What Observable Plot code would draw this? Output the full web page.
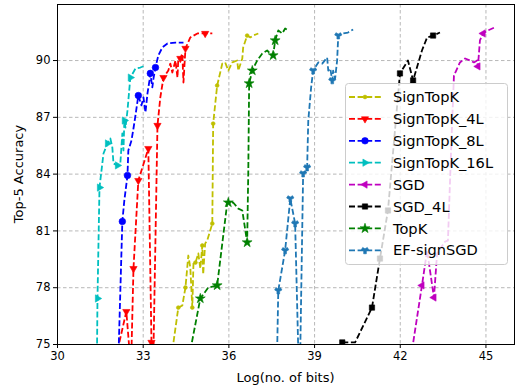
<!DOCTYPE html>
<html><head><meta charset="utf-8">
<script src="https://cdn.jsdelivr.net/npm/d3@7"></script>
<script src="https://cdn.jsdelivr.net/npm/@observablehq/plot@0.6"></script>
<style>body{margin:0;background:#fff}#chart svg{display:block}</style>
</head><body><div id="chart"></div>
<script>
// ---- data ----
const xTicks = [30, 33, 36, 39, 42, 45];
const yTicks = [75, 78, 81, 84, 87, 90];
const seriesNames = ["SignTopK", "SignTopK_4L", "SignTopK_8L", "SignTopK_16L", "SGD", "SGD_4L", "TopK", "EF-signSGD"];

const signTopK_x = [34.02,34.23,34.37,34.48,34.58,34.65,34.72,34.76,34.83,34.93,35.00,35.07,35.10,35.17,35.24,35.42,35.45,35.59,35.77,35.87,35.98,36.12,36.29,36.33,36.47,36.50,36.64,36.75,36.85,37.03];
const signTopK_y = [74.68,76.95,77.06,78.01,79.70,79.07,76.95,79.28,79.33,79.81,79.01,80.23,78.70,80.34,80.49,81.39,86.67,88.68,89.84,89.90,89.47,89.90,90.00,89.47,90.11,90.69,91.32,91.22,91.32,91.43];
const signTopK_marks = [1,3,6,8,11,15,16,17,26];

const signTopK4L_x = [32.10,32.41,32.52,32.59,32.66,32.83,33.18,33.29,33.36,33.46,33.50,33.60,33.71,33.88,33.95,34.02,34.13,34.20,34.23,34.30,34.37,34.41,34.48,34.65,34.90,35.17,35.42];
const signTopK4L_y = [74.68,76.74,74.68,74.68,79.01,83.66,85.35,75.11,74.68,83.14,86.57,88.05,89.10,89.47,89.84,89.37,90.00,89.10,90.11,90.11,90.37,88.84,90.64,91.22,91.43,91.43,91.43];
const signTopK4L_marks = [1,4,5,6,7,10,12,19,22,25];

const signTopK8L_x = [32.13,32.27,32.34,32.45,32.48,32.59,32.66,32.73,32.83,32.94,33.01,33.08,33.15,33.22,33.25,33.32,33.36,33.43,33.53,33.67,33.85,34.13,34.41];
const signTopK8L_y = [74.15,81.50,82.61,83.93,85.25,85.78,86.41,87.10,88.15,87.63,88.05,87.26,88.26,88.95,89.32,88.58,89.05,89.63,90.27,90.69,90.90,90.95,90.95];
const signTopK8L_marks = [1,3,8,14,17];

const signTopK16L_x = [31.38,31.40,31.47,31.61,31.75,31.85,31.92,31.96,32.10,32.20,32.27,32.31,32.34,32.38,32.45,32.55,32.73,32.90,33.08];
const signTopK16L_y = [74.15,77.43,83.29,85.09,85.62,85.88,85.41,84.56,84.46,84.56,86.15,85.25,86.83,86.46,87.36,89.10,89.58,89.63,89.74];
const signTopK16L_marks = [1,2,4,8,12,15];

const sgd_x = [42.41,42.76,42.94,43.18,43.29,43.57,43.67,43.78,43.88,44.09,44.27,44.44,44.58,44.69,44.72,44.79,44.90,45.07,45.31];
const sgd_y = [74.68,78.12,79.97,77.48,79.81,80.44,80.49,85.25,89.21,89.90,90.11,90.00,89.90,90.00,89.69,91.06,91.43,91.59,91.75];
const sgd_marks = [1,3,14,16];

const sgd4L_x = [39.97,40.42,41.01,41.29,41.57,41.99,42.27,42.45,42.76,42.94,43.15,43.39];
const sgd4L_y = [75.11,75.11,76.95,79.54,82.08,89.32,90.00,88.95,90.53,91.22,91.32,91.48];
const sgd4L_marks = [0,2,3,4,5,7,10];

const topK_x = [34.65,35.00,35.28,35.59,35.94,35.98,36.15,36.33,36.47,36.64,36.68,36.71,36.82,36.99,37.17,37.34,37.45,37.55,37.62,37.73,37.87,37.97,38.08];
const topK_y = [74.68,77.43,78.01,78.12,82.45,82.50,82.50,82.18,82.08,80.39,84.19,88.79,89.47,90.00,90.37,90.53,90.37,90.27,91.06,91.59,91.43,91.69,91.59];
const topK_marks = [1,3,5,9,11,12,17,18];

const efSignSGD_x = [37.69,37.73,37.97,38.15,38.32,38.43,38.50,38.60,38.74,38.78,38.88,38.95,39.13,39.27,39.44,39.48,39.55,39.62,39.65,39.72,39.79,39.83,40.00,40.17,40.35];
const efSignSGD_y = [74.68,77.85,79.97,82.71,81.39,74.68,74.68,84.03,84.35,86.83,88.58,89.47,89.90,89.84,90.16,89.47,89.58,88.95,89.47,89.05,90.00,91.32,91.43,91.48,91.64];
const efSignSGD_marks = [1,2,3,4,7,8,11,17,21];

// ---- styling ----
const styles = [
  {color:"#bfbf00", symbol:"circle",   rotate:0,   r:1.9, d3s:d3.symbolCircle},
  {color:"#ff0000", symbol:"triangle", rotate:180, r:2.7, d3s:d3.symbolTriangle},
  {color:"#0000ff", symbol:"circle",   rotate:0,   r:3.3, d3s:d3.symbolCircle},
  {color:"#00bfbf", symbol:"triangle", rotate:90,  r:2.7, d3s:d3.symbolTriangle},
  {color:"#bf00bf", symbol:"triangle", rotate:-90, r:2.7, d3s:d3.symbolTriangle},
  {color:"#000000", symbol:"square",   rotate:0,   r:3.0, d3s:d3.symbolSquare},
  {color:"#008000", symbol:"star",     rotate:0,   r:3.1, d3s:d3.symbolStar},
  {color:"#1f77b4", symbol:"wye",      rotate:0,   r:2.8, d3s:d3.symbolWye}
];
const raw = [
  [signTopK_x, signTopK_y, signTopK_marks],
  [signTopK4L_x, signTopK4L_y, signTopK4L_marks],
  [signTopK8L_x, signTopK8L_y, signTopK8L_marks],
  [signTopK16L_x, signTopK16L_y, signTopK16L_marks],
  [sgd_x, sgd_y, sgd_marks],
  [sgd4L_x, sgd4L_y, sgd4L_marks],
  [topK_x, topK_y, topK_marks],
  [efSignSGD_x, efSignSGD_y, efSignSGD_marks]
];

const marks = [
  Plot.gridX(xTicks, {stroke:"#b0b0b0", strokeOpacity:1, strokeWidth:0.9, strokeDasharray:"3.5,2.5"}),
  Plot.gridY(yTicks, {stroke:"#b0b0b0", strokeOpacity:1, strokeWidth:0.9, strokeDasharray:"3.5,2.5"})
];
raw.forEach(([xs, ys, mk], i) => {
  const st = styles[i];
  const data = xs.map((x, j) => ({x, y: ys[j], series: seriesNames[i]}));
  marks.push(Plot.line(data, {x:"x", y:"y", stroke:st.color, strokeWidth:1.8, strokeDasharray:"6,2.6", strokeLinecap:"butt", strokeLinejoin:"round", clip:true}));
  marks.push(Plot.dot(mk.map(j => data[j]), {x:"x", y:"y", symbol:st.symbol, r:st.r, fill:st.color, stroke:st.color, strokeWidth:0.6, rotate:st.rotate, clip:true}));
});
marks.push(Plot.frame({stroke:"#000", strokeWidth:1}));
marks.push(Plot.axisX({ticks:xTicks, tickSize:4, tickPadding:3, fontSize:11.5, label:null}));
marks.push(Plot.axisY({ticks:yTicks, tickSize:4, tickPadding:3, fontSize:11.5, label:null}));

const chart = Plot.plot({
  width:516, height:388,
  marginLeft:57, marginRight:2, marginTop:4, marginBottom:44,
  x:{domain:[30, 46]},
  y:{domain:[75, 92.96]},
  style:{fontFamily:"DejaVu Sans", fontSize:"11.5px", background:"#fff", color:"#000"},
  marks
});
document.getElementById("chart").appendChild(chart);

// ---- axis titles and legend ----
const svg = d3.select(chart);
svg.append("text").attr("x", 285.5).attr("y", 382).attr("text-anchor","middle")
  .attr("font-family","DejaVu Sans").attr("font-size", 13).attr("fill","#000").text("Log(no. of bits)");
svg.append("text").attr("transform","translate(23,174) rotate(-90)").attr("text-anchor","middle")
  .attr("font-family","DejaVu Sans").attr("font-size", 13).attr("fill","#000").text("Top-5 Accuracy");

const lg = svg.append("g");
lg.append("rect").attr("x",345.5).attr("y",83.5).attr("width",162).attr("height",181).attr("rx",3)
  .attr("fill","#fff").attr("fill-opacity",0.8).attr("stroke","#cccccc").attr("stroke-width",1);
seriesNames.forEach((name, i) => {
  const st = styles[i];
  const cy = 97 + i * 21.9;
  lg.append("line").attr("x1",349).attr("x2",381).attr("y1",cy).attr("y2",cy)
    .attr("stroke",st.color).attr("stroke-width",1.8).attr("stroke-dasharray","6,2.6");
  lg.append("path").attr("d", d3.symbol(st.d3s, Math.PI*st.r*st.r)())
    .attr("transform",`translate(365,${cy}) rotate(${st.rotate})`)
    .attr("fill",st.color).attr("stroke",st.color).attr("stroke-width",0.6);
  lg.append("text").attr("x",393).attr("y",cy).attr("dy","0.35em").attr("text-anchor","start")
    .attr("font-family","DejaVu Sans").attr("font-size",14.6).attr("fill","#000").text(name);
});
</script>
</body></html>
